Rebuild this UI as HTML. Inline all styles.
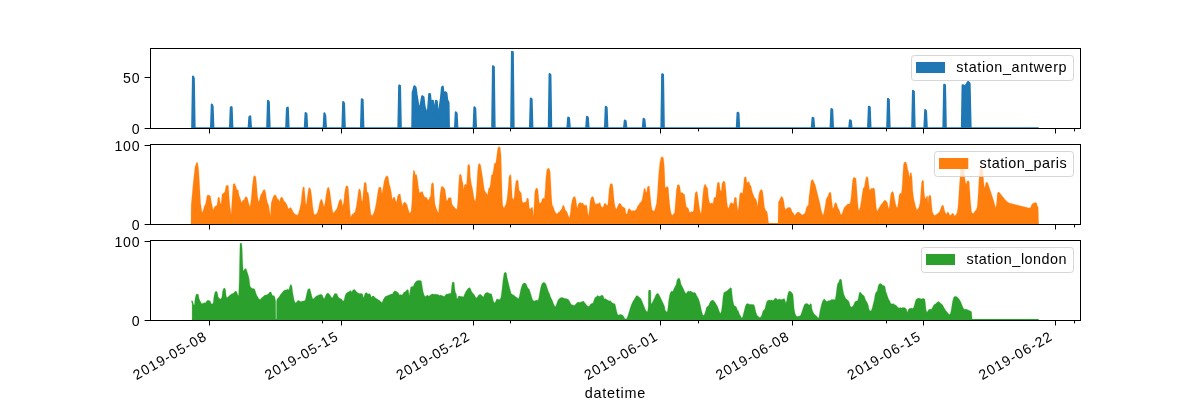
<!DOCTYPE html>
<html><head><meta charset="utf-8"><title>air quality area subplots</title>
<style>html,body{margin:0;padding:0;background:#fff;}body{width:1200px;height:400px;overflow:hidden;font-family:"Liberation Sans",sans-serif;}svg{display:block;will-change:transform;}text{font-family:"Liberation Sans",sans-serif;fill:#000;}</style>
</head><body>
<svg width="1200" height="400" viewBox="0 0 1200 400">
<rect x="0" y="0" width="1200" height="400" fill="#ffffff"/>
<g id="ax0">
<clipPath id="c0"><rect x="150" y="48" width="931" height="81"/></clipPath>
<g clip-path="url(#c0)"><path d="M192.3,128.5 L192.3,128.3 L192.2,128.3 L193.0,76.5 L193.8,78.5 L194.6,128.3 L211.0,128.3 L211.8,104.5 L212.6,106.4 L213.4,128.3 L230.0,128.3 L230.8,107.5 L231.6,107.1 L232.4,128.3 L248.6,128.3 L249.4,117.1 L250.2,116.3 L251.0,128.3 L267.2,128.3 L268.0,100.9 L268.8,101.9 L269.6,128.3 L286.2,128.3 L287.0,108.1 L287.8,107.7 L288.6,128.3 L304.8,128.3 L305.6,113.1 L306.4,113.9 L307.2,128.3 L323.6,128.3 L324.4,113.3 L325.2,115.4 L326.0,128.3 L342.4,128.3 L343.2,102.1 L344.0,103.4 L344.8,128.3 L361.0,128.3 L361.8,99.3 L362.6,99.9 L363.4,128.3 L398.4,128.3 L399.2,85.5 L400.0,85.9 L400.8,128.3 L412.3,128.3 L412.7,92.2 L413.4,90.0 L414.4,86.2 L415.6,87.6 L416.6,95.0 L418.2,105.0 L419.4,111.0 L420.8,104.0 L422.2,96.2 L423.4,97.0 L424.6,106.9 L426.2,112.0 L427.2,117.0 L428.2,108.0 L429.2,94.0 L430.0,94.2 L430.7,101.9 L431.5,107.0 L432.3,101.0 L432.9,100.8 L433.4,106.0 L434.4,115.0 L435.3,106.0 L436.0,100.8 L436.7,101.2 L437.5,111.0 L438.4,121.0 L439.6,108.0 L441.0,98.0 L442.0,87.4 L442.7,86.6 L443.6,93.8 L444.4,98.0 L445.4,92.2 L446.4,93.2 L447.2,100.0 L448.5,102.7 L448.9,128.3 L455.0,128.3 L455.8,112.3 L456.6,113.4 L457.4,128.3 L473.6,128.3 L474.4,107.3 L475.2,108.4 L476.0,128.3 L492.2,128.3 L493.0,66.3 L493.8,66.9 L494.6,128.3 L511.2,128.3 L512.0,51.9 L512.8,52.3 L513.6,128.3 L530.0,128.3 L530.8,98.5 L531.6,99.3 L532.4,128.3 L548.8,128.3 L549.6,74.1 L550.4,74.9 L551.2,128.3 L567.4,128.3 L568.2,117.5 L569.0,118.1 L569.8,128.3 L586.2,128.3 L587.0,116.9 L587.8,117.5 L588.6,128.3 L605.0,128.3 L605.8,106.9 L606.6,107.5 L607.4,128.3 L624.0,128.3 L624.8,120.5 L625.6,121.1 L626.4,128.3 L642.8,128.3 L643.6,118.9 L644.4,119.5 L645.2,128.3 L661.4,128.3 L662.2,74.3 L663.0,74.7 L663.8,128.3 L736.8,128.3 L737.6,112.7 L738.4,113.1 L739.2,128.3 L811.8,128.3 L812.6,117.9 L813.4,118.3 L814.2,128.3 L830.6,128.3 L831.4,109.1 L832.2,109.7 L833.0,128.3 L849.2,128.3 L850.0,120.3 L850.8,120.9 L851.6,128.3 L868.1,128.3 L868.9,106.7 L869.7,107.1 L870.5,128.3 L887.2,128.3 L888.0,98.9 L888.8,99.7 L889.6,128.3 L912.2,128.3 L913.0,90.9 L913.8,91.5 L914.6,128.3 L924.4,128.3 L925.2,110.1 L926.0,111.1 L926.8,128.3 L943.4,128.3 L944.2,84.7 L945.0,85.1 L945.8,128.3 L961.9,128.3 L962.6,85.3 L963.6,85.5 L964.8,86.7 L966.2,84.9 L968.2,81.9 L969.6,83.4 L970.6,128.3 L1037.7,128.3 L1037.7,128.5 Z" fill="#1f77b4" stroke="none"/>
<path d="M192.3,128.3 L192.2,128.3 L193.0,76.5 L193.8,78.5 L194.6,128.3 L211.0,128.3 L211.8,104.5 L212.6,106.4 L213.4,128.3 L230.0,128.3 L230.8,107.5 L231.6,107.1 L232.4,128.3 L248.6,128.3 L249.4,117.1 L250.2,116.3 L251.0,128.3 L267.2,128.3 L268.0,100.9 L268.8,101.9 L269.6,128.3 L286.2,128.3 L287.0,108.1 L287.8,107.7 L288.6,128.3 L304.8,128.3 L305.6,113.1 L306.4,113.9 L307.2,128.3 L323.6,128.3 L324.4,113.3 L325.2,115.4 L326.0,128.3 L342.4,128.3 L343.2,102.1 L344.0,103.4 L344.8,128.3 L361.0,128.3 L361.8,99.3 L362.6,99.9 L363.4,128.3 L398.4,128.3 L399.2,85.5 L400.0,85.9 L400.8,128.3 L412.3,128.3 L412.7,92.2 L413.4,90.0 L414.4,86.2 L415.6,87.6 L416.6,95.0 L418.2,105.0 L419.4,111.0 L420.8,104.0 L422.2,96.2 L423.4,97.0 L424.6,106.9 L426.2,112.0 L427.2,117.0 L428.2,108.0 L429.2,94.0 L430.0,94.2 L430.7,101.9 L431.5,107.0 L432.3,101.0 L432.9,100.8 L433.4,106.0 L434.4,115.0 L435.3,106.0 L436.0,100.8 L436.7,101.2 L437.5,111.0 L438.4,121.0 L439.6,108.0 L441.0,98.0 L442.0,87.4 L442.7,86.6 L443.6,93.8 L444.4,98.0 L445.4,92.2 L446.4,93.2 L447.2,100.0 L448.5,102.7 L448.9,128.3 L455.0,128.3 L455.8,112.3 L456.6,113.4 L457.4,128.3 L473.6,128.3 L474.4,107.3 L475.2,108.4 L476.0,128.3 L492.2,128.3 L493.0,66.3 L493.8,66.9 L494.6,128.3 L511.2,128.3 L512.0,51.9 L512.8,52.3 L513.6,128.3 L530.0,128.3 L530.8,98.5 L531.6,99.3 L532.4,128.3 L548.8,128.3 L549.6,74.1 L550.4,74.9 L551.2,128.3 L567.4,128.3 L568.2,117.5 L569.0,118.1 L569.8,128.3 L586.2,128.3 L587.0,116.9 L587.8,117.5 L588.6,128.3 L605.0,128.3 L605.8,106.9 L606.6,107.5 L607.4,128.3 L624.0,128.3 L624.8,120.5 L625.6,121.1 L626.4,128.3 L642.8,128.3 L643.6,118.9 L644.4,119.5 L645.2,128.3 L661.4,128.3 L662.2,74.3 L663.0,74.7 L663.8,128.3 L736.8,128.3 L737.6,112.7 L738.4,113.1 L739.2,128.3 L811.8,128.3 L812.6,117.9 L813.4,118.3 L814.2,128.3 L830.6,128.3 L831.4,109.1 L832.2,109.7 L833.0,128.3 L849.2,128.3 L850.0,120.3 L850.8,120.9 L851.6,128.3 L868.1,128.3 L868.9,106.7 L869.7,107.1 L870.5,128.3 L887.2,128.3 L888.0,98.9 L888.8,99.7 L889.6,128.3 L912.2,128.3 L913.0,90.9 L913.8,91.5 L914.6,128.3 L924.4,128.3 L925.2,110.1 L926.0,111.1 L926.8,128.3 L943.4,128.3 L944.2,84.7 L945.0,85.1 L945.8,128.3 L961.9,128.3 L962.6,85.3 L963.6,85.5 L964.8,86.7 L966.2,84.9 L968.2,81.9 L969.6,83.4 L970.6,128.3 L1037.7,128.3" fill="none" stroke="#1f77b4" stroke-width="2.08" stroke-linejoin="round" stroke-linecap="square"/></g>
<rect x="209" y="128" width="1" height="5.5" fill="#000"/>
<rect x="341" y="128" width="1" height="5.5" fill="#000"/>
<rect x="473" y="128" width="1" height="5.5" fill="#000"/>
<rect x="660" y="128" width="1" height="5.5" fill="#000"/>
<rect x="792" y="128" width="1" height="5.5" fill="#000"/>
<rect x="923" y="128" width="1" height="5.5" fill="#000"/>
<rect x="1055" y="128" width="1" height="5.5" fill="#000"/>
<rect x="322" y="128" width="1" height="3.4" fill="#000"/>
<rect x="510" y="128" width="1" height="3.4" fill="#000"/>
<rect x="698" y="128" width="1" height="3.4" fill="#000"/>
<rect x="886" y="128" width="1" height="3.4" fill="#000"/>
<rect x="1074" y="128" width="1" height="3.4" fill="#000"/>
<rect x="144.6" y="128" width="5.4" height="1" fill="#000"/>
<text x="140.2" y="133.6" font-size="14.1" text-anchor="end" letter-spacing="0.7">0</text>
<rect x="144.6" y="77" width="5.4" height="1" fill="#000"/>
<text x="140.2" y="82.6" font-size="14.1" text-anchor="end" letter-spacing="0.7">50</text>
<rect x="150" y="48" width="931" height="1" fill="#000"/>
<rect x="150" y="128" width="931" height="1" fill="#000"/>
<rect x="150" y="48" width="1" height="81" fill="#000"/>
<rect x="1080" y="48" width="1" height="81" fill="#000"/>
<rect x="911.5" y="55.5" width="162.0" height="25.0" rx="2.8" ry="2.8" fill="#ffffff" fill-opacity="0.8" stroke="#cccccc" stroke-opacity="0.8" stroke-width="1"/>
<rect x="916" y="62" width="29" height="11" fill="#1f77b4"/>
<text x="956.2" y="72.0" font-size="14.4" textLength="110.4" lengthAdjust="spacing">station_antwerp</text>
</g>
<g id="ax1">
<clipPath id="c1"><rect x="150" y="144" width="931" height="81"/></clipPath>
<g clip-path="url(#c1)"><path d="M191.0,224.5 L191.0,224.2 L191.2,205.0 L193.0,185.0 L195.0,167.0 L196.6,162.6 L197.6,162.6 L198.6,169.0 L199.6,185.0 L200.6,203.0 L202.0,212.6 L203.0,211.0 L204.4,206.0 L205.6,204.0 L207.0,195.4 L208.6,195.0 L210.4,196.0 L211.6,203.0 L213.0,209.0 L213.6,210.0 L214.6,206.6 L216.0,206.0 L217.0,205.0 L218.0,197.4 L219.4,197.4 L220.2,203.0 L221.0,204.0 L222.2,194.0 L223.6,193.0 L224.8,192.0 L226.0,186.0 L227.4,185.0 L228.4,186.0 L229.0,195.0 L230.0,207.0 L231.2,214.0 L232.2,197.0 L233.2,184.0 L234.6,183.4 L235.8,186.0 L237.0,190.0 L238.2,190.0 L239.0,195.0 L240.4,199.0 L241.6,203.0 L242.6,200.6 L244.0,200.0 L245.0,197.4 L246.2,196.4 L247.4,198.0 L248.6,203.0 L250.0,207.0 L251.2,199.0 L252.4,185.0 L253.6,176.6 L254.8,175.4 L255.8,177.0 L256.6,184.0 L257.4,195.0 L258.4,202.0 L259.4,200.0 L260.6,195.0 L262.0,193.0 L263.4,190.0 L264.6,189.4 L265.6,192.0 L266.6,199.0 L267.6,203.0 L268.6,205.0 L269.6,211.0 L270.4,216.0 L271.2,203.0 L272.4,199.0 L273.6,196.0 L275.0,194.4 L276.2,196.0 L277.4,199.0 L278.6,199.4 L279.4,202.0 L280.4,198.0 L281.6,197.0 L282.8,198.0 L284.0,201.0 L285.6,202.6 L287.0,205.0 L288.4,209.0 L289.6,208.0 L290.8,207.4 L292.0,209.4 L293.2,212.0 L294.6,214.0 L296.0,214.4 L297.4,215.4 L298.6,213.0 L299.8,208.6 L301.0,203.0 L302.0,193.0 L303.0,187.0 L304.2,187.0 L305.0,195.0 L305.8,205.0 L306.6,203.0 L307.6,195.0 L308.6,188.6 L309.8,187.6 L310.8,190.0 L311.8,197.0 L312.8,207.0 L314.0,214.4 L315.4,214.6 L317.0,213.4 L318.4,209.0 L319.6,203.0 L320.8,199.6 L322.0,199.4 L323.0,203.0 L324.0,207.0 L325.0,203.0 L326.2,194.0 L327.4,188.0 L328.6,187.0 L329.6,190.0 L330.6,197.0 L331.6,205.0 L333.0,213.0 L334.4,212.0 L335.8,210.0 L337.0,208.6 L338.2,204.0 L339.4,200.6 L340.6,199.0 L341.6,200.0 L342.6,206.0 L343.6,203.0 L344.6,193.0 L345.8,186.6 L347.0,185.6 L348.2,187.0 L349.0,197.0 L349.8,209.0 L350.6,217.0 L352.0,214.6 L353.4,213.4 L355.0,212.0 L356.2,207.0 L357.4,199.0 L358.6,190.0 L359.8,188.6 L360.8,192.0 L361.6,200.0 L362.4,202.0 L363.2,193.0 L364.2,183.0 L365.4,182.0 L366.4,184.0 L367.0,192.0 L368.2,192.6 L369.0,197.0 L370.0,207.0 L371.0,215.0 L372.4,215.4 L373.8,213.0 L375.0,209.0 L376.2,203.0 L377.4,195.0 L378.6,188.0 L379.8,187.0 L381.0,187.6 L382.0,194.0 L383.0,188.0 L384.2,181.0 L385.6,177.0 L387.0,175.6 L388.2,177.0 L389.2,184.0 L390.4,187.4 L391.4,193.0 L392.4,200.0 L393.4,197.4 L394.6,197.0 L395.6,201.0 L396.6,202.0 L397.6,196.0 L399.0,194.0 L400.2,194.0 L401.2,200.0 L402.4,206.0 L403.4,203.0 L404.6,202.0 L405.8,203.0 L407.0,204.4 L408.2,209.0 L409.4,213.0 L411.0,212.0 L412.0,201.0 L412.6,181.0 L413.4,170.6 L414.4,170.6 L415.4,175.0 L416.6,174.6 L417.6,180.0 L418.6,188.0 L419.6,193.0 L421.0,192.0 L422.4,191.4 L423.6,195.0 L425.0,197.4 L426.2,197.0 L427.4,199.0 L428.6,200.6 L429.6,197.4 L430.6,196.0 L431.4,184.0 L432.6,182.6 L433.6,184.0 L434.2,195.0 L435.0,204.0 L436.2,208.0 L437.4,211.0 L438.4,213.0 L439.2,205.0 L440.2,193.0 L441.4,186.6 L442.6,186.4 L443.8,187.4 L445.0,189.4 L445.8,195.0 L446.6,201.0 L447.6,200.0 L448.4,198.0 L449.8,197.6 L451.2,198.0 L451.8,203.0 L452.6,205.6 L453.8,206.6 L455.0,208.0 L456.2,209.0 L457.0,209.4 L457.8,201.0 L458.6,185.0 L459.4,175.0 L460.4,174.0 L461.4,175.4 L462.2,181.0 L463.0,183.0 L463.6,190.0 L464.4,185.0 L465.6,184.0 L466.6,185.0 L467.2,175.0 L467.8,165.0 L469.0,164.4 L469.8,166.0 L470.4,177.0 L471.4,184.0 L472.4,188.0 L473.2,193.0 L474.2,199.0 L475.2,201.4 L476.0,197.0 L476.8,185.0 L477.6,171.0 L478.4,164.2 L479.6,163.6 L480.6,165.0 L481.6,171.0 L482.6,177.0 L483.4,183.0 L484.4,190.0 L485.4,192.0 L486.4,193.0 L487.6,195.0 L488.6,188.6 L489.8,187.6 L490.6,183.0 L491.4,175.0 L492.6,174.4 L493.6,169.0 L494.4,163.4 L495.8,163.0 L496.6,157.0 L497.8,148.0 L499.0,146.6 L500.2,147.4 L501.0,155.0 L501.6,175.0 L502.2,197.0 L502.8,206.0 L504.0,208.0 L505.0,206.0 L506.0,204.0 L507.0,199.0 L508.0,189.0 L509.0,177.0 L510.0,174.6 L511.0,175.4 L511.6,185.0 L512.2,197.0 L513.2,200.0 L514.2,197.0 L515.0,188.0 L516.0,181.0 L517.2,180.0 L518.2,181.0 L519.0,190.0 L520.0,191.4 L521.2,193.0 L522.0,200.0 L522.8,203.0 L523.8,202.4 L525.0,202.0 L526.0,202.4 L526.8,198.6 L527.8,198.0 L528.6,199.4 L529.2,207.0 L530.0,209.4 L531.2,208.0 L532.4,207.0 L533.0,211.0 L533.6,216.6 L534.2,203.0 L534.8,192.0 L535.8,188.6 L537.0,188.0 L538.0,190.0 L538.6,197.0 L539.4,203.4 L540.4,203.0 L541.4,202.0 L542.2,199.0 L543.4,198.0 L544.4,199.0 L545.0,193.0 L545.8,179.0 L546.8,170.0 L548.0,168.2 L549.2,168.6 L550.2,172.0 L550.8,183.0 L551.4,195.0 L552.2,205.0 L553.4,207.0 L554.6,211.0 L555.8,213.0 L557.0,214.0 L558.2,212.6 L559.4,212.0 L560.6,210.0 L561.8,209.0 L562.6,206.0 L563.6,205.0 L564.4,207.0 L565.2,210.0 L566.4,211.0 L567.4,213.0 L568.4,216.0 L569.4,218.0 L570.4,213.0 L571.2,205.0 L572.2,200.0 L573.4,197.0 L574.6,196.4 L575.6,198.0 L576.4,203.0 L577.2,208.6 L578.2,204.6 L579.2,203.0 L580.6,202.6 L581.8,203.4 L583.0,203.0 L584.0,205.0 L585.2,205.4 L586.2,204.6 L587.0,207.0 L587.8,213.0 L588.6,216.0 L589.4,209.0 L590.2,201.0 L591.2,197.4 L592.4,196.6 L593.6,197.4 L594.6,202.0 L595.8,204.4 L597.0,203.4 L598.2,204.0 L599.2,202.6 L600.2,203.0 L601.0,206.0 L602.2,207.4 L603.4,206.6 L604.4,203.6 L605.6,203.4 L606.6,205.0 L607.8,205.4 L608.4,199.0 L609.2,189.0 L610.2,184.0 L611.4,183.4 L612.6,184.4 L613.4,192.0 L614.2,201.0 L615.2,207.0 L616.4,209.4 L617.4,207.0 L618.4,204.4 L619.6,203.0 L620.8,204.0 L621.8,206.0 L623.0,207.0 L624.2,207.6 L625.2,208.6 L626.0,214.0 L627.0,214.0 L628.2,209.4 L629.4,208.6 L630.6,210.0 L631.8,211.0 L633.0,210.6 L634.2,211.0 L635.4,210.0 L636.6,209.0 L637.6,206.0 L638.8,205.0 L639.8,203.0 L641.0,202.0 L642.0,200.0 L643.0,195.0 L644.0,189.0 L645.0,188.0 L645.8,191.4 L646.6,193.0 L647.4,187.0 L648.4,186.0 L649.4,186.6 L650.2,195.0 L651.2,205.0 L652.2,210.0 L653.4,211.0 L654.6,210.6 L655.6,207.0 L656.6,203.0 L657.6,191.0 L658.6,175.0 L659.8,163.0 L661.0,157.4 L662.2,156.6 L663.4,158.0 L664.2,165.0 L664.8,177.0 L665.0,188.0 L666.2,187.0 L667.4,186.4 L668.4,188.0 L669.0,197.0 L670.0,207.0 L671.0,213.0 L672.2,215.4 L673.4,214.0 L674.6,213.0 L675.4,203.0 L676.4,190.0 L677.4,185.0 L678.6,184.4 L679.8,186.0 L680.6,192.0 L681.8,193.0 L682.6,192.6 L683.6,194.0 L684.6,194.6 L685.4,201.0 L686.4,207.0 L687.4,207.4 L688.4,208.6 L689.4,212.0 L690.4,212.6 L691.4,211.4 L692.6,212.0 L693.6,210.6 L694.4,201.0 L695.2,193.0 L696.2,191.4 L697.2,192.0 L698.0,197.0 L699.0,205.0 L700.0,211.0 L701.0,214.0 L701.8,207.0 L702.6,197.0 L703.6,188.0 L704.6,184.4 L705.6,184.4 L706.6,187.0 L707.6,188.0 L708.4,197.0 L709.4,202.6 L710.6,203.4 L711.8,203.0 L713.0,203.4 L714.0,198.0 L715.0,197.0 L715.8,197.4 L716.6,189.0 L717.4,183.0 L718.4,182.0 L719.4,183.0 L720.2,190.0 L721.2,191.4 L722.0,184.0 L723.0,181.4 L724.2,181.0 L725.2,183.0 L726.0,191.0 L726.8,201.0 L727.6,207.0 L728.6,208.6 L729.6,205.0 L730.6,203.0 L731.8,202.6 L733.0,204.0 L733.8,203.0 L734.4,198.0 L735.4,197.0 L736.4,198.0 L737.0,205.0 L738.0,211.0 L738.8,205.0 L739.6,195.0 L740.6,192.4 L741.6,193.0 L742.6,193.6 L743.4,187.0 L744.2,178.0 L745.2,176.6 L746.2,177.4 L747.0,183.0 L748.0,182.0 L749.0,181.4 L750.0,185.0 L751.0,186.0 L751.8,190.0 L752.6,193.0 L753.6,195.0 L754.6,198.0 L755.6,198.6 L756.6,201.0 L757.6,207.0 L758.4,198.0 L759.4,192.0 L760.6,190.0 L761.8,189.4 L762.8,192.0 L763.6,199.0 L764.4,207.0 L765.4,210.0 L766.6,211.0 L767.6,214.0 L768.4,222.0 L768.8,224.2 L778.0,224.2 L778.4,202.0 L779.4,200.6 L780.4,198.0 L781.6,196.4 L782.8,197.4 L783.8,201.0 L784.6,207.0 L785.6,210.0 L786.6,208.6 L787.8,207.6 L789.0,207.4 L790.2,207.6 L791.2,209.0 L792.2,212.0 L793.4,213.0 L794.6,215.4 L795.8,214.0 L797.0,212.4 L798.2,212.0 L799.4,212.4 L800.6,213.4 L801.8,215.0 L803.0,214.6 L804.2,214.0 L805.4,212.0 L806.4,207.4 L807.4,206.0 L808.4,205.0 L809.0,197.0 L810.0,189.0 L811.0,181.0 L812.2,179.4 L813.4,180.6 L814.2,183.0 L815.0,184.0 L816.0,188.0 L817.0,192.0 L818.0,196.0 L819.0,200.0 L820.0,204.0 L821.0,209.0 L822.0,213.0 L823.0,215.4 L824.0,212.0 L825.0,207.0 L826.0,200.0 L827.0,197.4 L828.0,196.0 L829.0,193.0 L830.0,192.0 L831.0,193.0 L831.8,201.0 L832.8,208.6 L833.8,207.0 L834.6,203.4 L835.6,202.4 L836.6,203.4 L837.6,207.0 L838.6,209.0 L839.6,211.0 L840.6,214.0 L841.6,215.0 L842.6,212.0 L843.6,209.0 L844.6,207.0 L845.8,206.0 L847.0,204.6 L848.2,204.0 L849.4,204.0 L850.2,203.0 L851.0,198.0 L851.8,189.0 L852.6,180.0 L853.6,177.4 L854.8,177.4 L856.0,178.6 L856.8,189.0 L857.6,201.0 L858.4,209.0 L859.2,210.6 L860.2,207.0 L861.2,201.0 L862.2,194.0 L863.2,188.0 L864.2,187.6 L865.0,183.0 L866.0,177.4 L867.0,176.4 L868.0,178.0 L868.8,185.0 L869.6,190.0 L870.6,189.4 L871.6,188.0 L872.6,188.4 L873.6,188.0 L874.6,189.0 L875.4,197.0 L876.2,207.0 L877.0,211.0 L878.0,210.0 L879.0,208.0 L880.2,206.0 L881.4,204.0 L882.6,203.0 L883.8,201.0 L885.0,200.0 L886.2,201.0 L887.4,203.0 L888.2,207.0 L889.0,209.0 L889.8,203.0 L890.6,195.0 L891.6,192.0 L892.6,191.4 L893.6,193.0 L894.6,199.0 L895.6,204.0 L896.6,207.0 L897.4,208.0 L898.2,203.0 L899.2,195.0 L900.2,193.0 L901.2,194.0 L902.0,189.0 L902.8,175.0 L903.6,164.0 L904.6,162.0 L905.8,162.0 L906.8,164.0 L907.8,170.0 L908.6,172.0 L909.4,178.0 L910.2,173.0 L911.2,172.6 L912.0,177.0 L912.8,191.0 L913.8,199.0 L914.8,203.0 L915.8,207.0 L916.8,210.0 L917.8,209.0 L919.0,207.0 L920.0,203.0 L920.8,193.0 L921.6,182.0 L922.6,180.0 L923.6,181.0 L924.2,193.0 L925.0,198.0 L925.8,198.6 L926.6,196.6 L927.6,196.0 L928.0,205.0 L928.4,197.4 L929.2,195.4 L930.2,195.0 L931.0,197.0 L931.6,205.0 L932.4,212.0 L933.4,214.0 L934.6,215.4 L935.8,215.0 L937.0,214.0 L938.2,213.0 L939.4,212.0 L940.6,209.0 L941.6,206.0 L942.6,205.0 L943.6,206.0 L944.4,210.0 L945.4,213.0 L946.6,214.0 L947.6,212.0 L948.6,212.6 L949.6,215.0 L950.6,215.4 L951.6,214.0 L952.6,213.0 L953.6,214.0 L954.6,216.0 L955.8,215.0 L957.0,213.0 L958.0,207.0 L958.8,195.0 L959.6,183.0 L960.4,173.0 L961.2,166.0 L962.0,164.4 L963.0,165.0 L964.0,170.0 L964.8,178.0 L965.6,183.0 L966.4,184.0 L967.2,181.0 L968.2,180.4 L969.2,182.0 L969.8,191.0 L970.6,203.0 L971.6,212.0 L972.6,213.6 L973.8,213.0 L975.0,211.0 L976.2,210.0 L977.2,207.0 L978.0,197.0 L978.8,183.0 L979.6,171.0 L980.4,166.6 L981.4,166.0 L982.4,167.0 L983.2,175.0 L984.0,185.0 L984.8,188.0 L985.8,183.0 L986.8,182.0 L987.8,183.0 L988.8,186.0 L989.8,189.0 L990.8,192.0 L991.8,195.0 L992.8,198.0 L993.8,201.0 L994.8,205.0 L995.8,208.0 L996.6,203.0 L997.4,193.0 L998.4,192.0 L999.4,192.6 L1001.0,194.6 L1003.0,197.0 L1005.0,199.4 L1007.0,201.6 L1009.0,203.0 L1013.0,204.0 L1017.0,205.0 L1021.0,206.0 L1025.0,207.0 L1029.0,208.0 L1030.6,207.4 L1031.6,205.0 L1032.6,203.6 L1034.0,203.0 L1035.4,202.4 L1036.6,203.0 L1037.4,206.0 L1038.2,207.4 L1038.6,224.2 L1038.6,224.5 Z" fill="#ff7f0e" stroke="#ff7f0e" stroke-width="0.25" stroke-linejoin="round"/>
<path d="M191.2,224.1 L1038.7,224.1" fill="none" stroke="#ff7f0e" stroke-width="2.08"/></g>
<rect x="209" y="224" width="1" height="5.5" fill="#000"/>
<rect x="341" y="224" width="1" height="5.5" fill="#000"/>
<rect x="473" y="224" width="1" height="5.5" fill="#000"/>
<rect x="660" y="224" width="1" height="5.5" fill="#000"/>
<rect x="792" y="224" width="1" height="5.5" fill="#000"/>
<rect x="923" y="224" width="1" height="5.5" fill="#000"/>
<rect x="1055" y="224" width="1" height="5.5" fill="#000"/>
<rect x="322" y="224" width="1" height="3.4" fill="#000"/>
<rect x="510" y="224" width="1" height="3.4" fill="#000"/>
<rect x="698" y="224" width="1" height="3.4" fill="#000"/>
<rect x="886" y="224" width="1" height="3.4" fill="#000"/>
<rect x="1074" y="224" width="1" height="3.4" fill="#000"/>
<rect x="144.6" y="224" width="5.4" height="1" fill="#000"/>
<text x="140.2" y="229.6" font-size="14.1" text-anchor="end" letter-spacing="0.7">0</text>
<rect x="144.6" y="145" width="5.4" height="1" fill="#000"/>
<text x="140.2" y="150.6" font-size="14.1" text-anchor="end" letter-spacing="0.7">100</text>
<rect x="150" y="144" width="931" height="1" fill="#000"/>
<rect x="150" y="224" width="931" height="1" fill="#000"/>
<rect x="150" y="144" width="1" height="81" fill="#000"/>
<rect x="1080" y="144" width="1" height="81" fill="#000"/>
<rect x="934.5" y="151.5" width="139.0" height="25.0" rx="2.8" ry="2.8" fill="#ffffff" fill-opacity="0.8" stroke="#cccccc" stroke-opacity="0.8" stroke-width="1"/>
<rect x="939" y="158" width="29.299999999999955" height="11" fill="#ff7f0e"/>
<text x="979.6" y="168.0" font-size="14.4" textLength="87.0" lengthAdjust="spacing">station_paris</text>
</g>
<g id="ax2">
<clipPath id="c2"><rect x="150" y="240" width="931" height="81"/></clipPath>
<g clip-path="url(#c2)"><path d="M192.1,320.5 L192.1,320.2 L192.1,303.4 L191.5,302.0 L191.6,300.8 L192.6,301.0 L193.6,304.6 L194.4,305.0 L195.0,299.0 L196.0,294.6 L197.2,294.0 L198.4,294.6 L199.2,299.0 L200.2,301.0 L201.4,303.4 L202.6,303.4 L203.8,303.0 L205.0,302.6 L205.8,303.0 L206.6,301.0 L207.8,300.2 L209.0,300.4 L210.2,301.0 L211.0,303.4 L212.2,304.0 L213.2,303.0 L214.0,296.0 L215.0,292.0 L216.2,291.0 L217.4,292.6 L218.2,297.0 L219.4,298.6 L220.6,299.0 L221.8,297.6 L222.6,291.0 L223.6,288.4 L224.8,288.0 L225.6,290.0 L226.2,296.0 L227.0,298.0 L227.8,297.0 L229.0,296.0 L230.2,295.0 L231.4,294.0 L232.6,293.4 L233.8,293.0 L234.8,291.4 L236.0,291.0 L237.0,292.6 L237.8,295.0 L238.6,295.4 L239.2,281.0 L239.6,261.0 L240.0,244.0 L240.6,243.0 L241.6,243.0 L242.2,249.0 L242.6,261.0 L243.2,271.0 L244.2,270.0 L245.2,268.4 L246.2,269.0 L247.2,272.0 L248.2,275.0 L249.2,279.0 L250.0,286.0 L251.0,287.6 L252.2,288.4 L253.4,288.6 L254.6,289.0 L255.6,292.0 L256.6,295.0 L257.8,297.0 L259.0,299.0 L260.2,299.4 L261.4,298.0 L262.6,297.0 L263.8,296.0 L265.0,295.0 L266.2,295.0 L267.4,294.6 L268.6,293.4 L269.8,292.0 L271.0,292.0 L272.0,294.6 L273.0,296.0 L274.0,295.4 L274.8,297.0 L275.7,301.0 L275.8,320.2 L276.5,320.2 L276.6,301.0 L277.2,299.0 L278.0,298.0 L279.0,297.0 L280.2,295.0 L281.4,293.4 L282.6,292.0 L283.8,290.6 L285.0,290.0 L286.2,290.0 L287.4,289.0 L288.6,290.0 L289.4,288.0 L290.2,285.0 L291.2,284.6 L292.0,286.6 L292.8,293.0 L293.6,297.0 L294.4,301.0 L295.4,303.0 L296.6,302.0 L297.8,300.6 L299.0,300.4 L300.2,301.4 L301.4,301.6 L302.6,301.0 L303.8,301.0 L305.0,300.6 L305.8,298.0 L306.6,294.0 L307.6,290.0 L308.8,288.6 L310.0,289.0 L310.8,292.0 L311.8,296.0 L312.8,299.0 L314.0,298.6 L315.2,297.0 L316.4,296.0 L317.6,295.4 L318.8,295.0 L320.0,294.6 L321.2,294.6 L322.4,295.0 L323.4,298.0 L324.4,298.6 L325.4,296.0 L326.4,294.0 L327.6,293.0 L328.8,293.4 L330.0,295.0 L331.2,297.0 L332.4,298.0 L333.4,296.0 L334.6,293.6 L335.8,293.4 L337.0,294.0 L338.0,296.6 L339.2,298.0 L340.4,298.4 L341.6,299.0 L342.8,301.0 L344.0,300.4 L345.0,296.0 L346.0,293.4 L347.2,292.6 L348.4,292.0 L349.6,291.0 L350.6,290.6 L351.6,292.0 L352.6,290.6 L353.6,289.6 L354.8,289.4 L355.8,291.0 L356.8,292.0 L358.0,293.0 L359.2,293.4 L360.4,293.6 L361.6,293.4 L362.6,294.0 L363.4,298.0 L364.2,296.0 L365.0,293.4 L366.2,292.6 L367.4,293.4 L368.6,294.0 L369.8,293.6 L370.6,295.0 L371.6,297.4 L372.6,296.0 L373.8,296.0 L375.0,297.4 L376.2,298.6 L377.4,299.0 L378.6,300.0 L379.8,300.6 L381.0,302.0 L382.2,302.6 L383.0,300.0 L384.2,298.0 L385.4,296.6 L386.6,296.0 L387.8,295.4 L389.0,295.0 L390.2,294.6 L391.4,294.0 L392.6,294.0 L393.4,292.0 L394.6,291.0 L395.8,291.0 L397.0,292.0 L398.2,292.6 L399.4,295.0 L400.6,294.6 L401.8,295.0 L403.0,294.0 L404.0,292.0 L405.2,292.0 L406.2,290.6 L407.4,289.6 L408.4,290.0 L409.2,296.0 L410.0,291.0 L410.8,287.0 L412.0,286.4 L413.2,286.6 L414.2,284.0 L415.4,282.0 L416.6,281.0 L417.8,280.6 L419.0,280.6 L420.2,280.6 L421.4,281.0 L422.2,286.0 L423.0,291.0 L424.0,294.6 L425.0,296.6 L426.2,296.0 L427.4,295.0 L428.6,296.0 L429.8,295.4 L431.0,294.6 L432.2,294.0 L433.4,294.0 L434.6,294.4 L435.8,294.0 L437.0,294.4 L438.2,294.6 L439.4,295.4 L440.6,295.0 L441.8,295.4 L443.0,296.0 L444.2,296.6 L445.4,295.0 L446.6,294.0 L447.8,294.0 L449.0,293.6 L450.2,293.4 L451.0,293.0 L451.6,287.0 L452.2,282.6 L453.2,282.0 L454.2,282.6 L454.8,289.0 L455.6,293.0 L456.4,294.0 L457.0,299.0 L457.8,298.0 L458.6,296.0 L459.8,296.0 L461.0,296.6 L462.2,296.6 L463.4,297.0 L464.4,294.6 L465.6,292.0 L466.8,290.0 L468.0,288.6 L469.2,287.6 L470.4,288.6 L471.4,291.0 L472.6,293.0 L473.8,294.0 L475.0,296.0 L476.2,298.0 L477.4,297.0 L478.6,295.0 L479.8,294.4 L481.0,294.6 L482.2,296.0 L483.4,297.0 L484.4,294.6 L485.6,293.0 L486.8,292.4 L488.0,292.6 L489.2,293.4 L490.4,293.6 L491.6,294.0 L492.4,297.0 L493.4,301.0 L494.4,303.0 L495.4,302.0 L496.4,299.4 L497.6,299.0 L498.8,299.4 L500.0,299.6 L501.0,297.0 L502.0,289.0 L503.0,280.0 L504.0,273.4 L505.2,272.0 L506.4,273.0 L507.2,278.0 L508.2,282.0 L509.2,286.0 L510.2,290.0 L511.2,293.4 L512.4,294.6 L513.6,295.0 L514.8,296.0 L516.0,297.0 L517.2,297.6 L518.4,299.0 L519.4,296.0 L520.4,291.0 L521.4,287.0 L522.6,284.0 L523.8,283.0 L525.0,283.0 L526.2,284.0 L527.2,286.6 L528.2,288.4 L529.2,289.0 L530.0,291.4 L531.0,294.6 L532.0,298.0 L533.0,300.6 L534.2,301.0 L535.4,300.4 L536.6,300.0 L537.8,300.4 L538.8,298.0 L539.8,292.0 L540.8,287.0 L542.0,283.4 L543.2,282.4 L544.4,282.4 L545.6,283.4 L546.6,286.0 L547.6,289.0 L548.6,292.0 L549.6,294.0 L550.6,297.0 L551.6,299.0 L552.6,301.0 L553.6,304.0 L554.6,306.0 L555.6,306.6 L556.6,304.0 L557.6,301.0 L558.8,299.0 L560.0,298.0 L561.2,297.6 L562.4,297.4 L563.6,298.0 L564.8,298.4 L566.0,298.6 L567.2,299.0 L568.4,299.4 L569.4,301.0 L570.4,303.0 L571.4,304.6 L572.6,305.0 L573.8,305.4 L575.0,305.0 L576.2,303.4 L577.4,302.6 L578.6,302.0 L579.8,302.4 L581.0,302.0 L582.2,301.4 L583.4,301.0 L584.6,302.6 L585.8,304.0 L587.0,305.4 L588.2,306.6 L589.4,306.0 L590.6,304.0 L591.8,303.4 L593.0,303.0 L594.0,300.0 L595.0,297.4 L596.2,297.0 L597.4,295.4 L598.6,296.0 L599.8,296.4 L601.0,295.4 L602.2,295.0 L603.2,296.0 L604.2,299.0 L605.4,298.6 L606.6,299.6 L607.8,300.0 L609.0,301.0 L610.2,300.6 L611.4,302.0 L612.6,303.0 L613.8,303.4 L615.0,304.0 L615.8,307.0 L616.6,311.0 L617.6,314.6 L618.8,315.0 L620.0,314.6 L621.2,314.4 L622.4,315.0 L623.4,316.0 L624.4,318.0 L625.6,319.0 L626.8,318.6 L627.8,316.0 L629.0,312.0 L630.2,308.0 L631.4,304.6 L632.6,302.0 L633.8,300.0 L635.0,298.0 L636.2,296.0 L637.2,295.4 L638.4,296.6 L639.6,297.6 L640.8,298.6 L642.0,301.0 L643.2,304.0 L644.4,307.0 L645.6,310.0 L646.6,311.6 L647.6,311.4 L648.2,307.0 L648.4,291.0 L649.0,290.0 L650.2,290.0 L650.8,291.0 L651.0,304.0 L652.0,303.0 L653.0,301.0 L654.0,299.0 L655.0,297.0 L656.0,294.6 L657.0,293.4 L658.2,293.4 L659.2,295.0 L660.2,297.0 L661.4,299.4 L662.6,302.0 L663.8,304.6 L664.8,307.0 L665.0,310.0 L666.0,311.0 L667.0,312.6 L667.8,309.0 L668.6,301.0 L669.6,295.0 L670.6,292.0 L671.8,291.0 L672.8,291.4 L673.8,289.0 L675.0,286.6 L676.0,285.0 L677.0,280.0 L678.0,278.4 L679.2,278.0 L680.2,280.0 L681.0,284.0 L682.0,286.0 L683.0,288.0 L684.0,290.0 L685.0,292.6 L686.2,293.4 L687.2,292.0 L688.4,291.0 L689.6,291.4 L690.8,291.0 L692.0,292.0 L693.2,292.6 L694.4,292.4 L695.6,293.0 L696.6,295.4 L697.6,297.0 L698.6,299.0 L699.6,302.0 L700.6,306.0 L701.6,311.0 L702.6,314.6 L703.6,315.4 L704.6,314.0 L705.6,311.0 L706.4,307.4 L707.4,306.6 L708.4,306.0 L709.4,303.4 L710.4,301.6 L711.6,300.4 L712.8,300.0 L714.0,301.0 L715.2,302.6 L716.4,304.6 L717.6,306.6 L718.6,309.4 L719.6,312.0 L720.6,313.4 L721.4,311.0 L722.2,305.0 L723.0,297.0 L723.8,292.6 L724.8,292.0 L726.0,291.6 L727.2,290.6 L728.4,289.6 L729.6,288.6 L730.8,287.6 L731.6,288.6 L732.2,295.0 L733.0,301.0 L734.0,305.4 L735.2,306.0 L736.4,307.0 L737.4,310.0 L738.4,311.0 L739.4,314.0 L740.6,316.0 L741.6,318.0 L742.6,317.0 L743.4,314.0 L744.4,310.0 L745.4,306.0 L746.4,304.0 L747.6,303.4 L748.8,304.0 L750.0,304.4 L751.2,304.2 L752.4,304.4 L753.6,304.6 L754.6,306.0 L755.4,310.0 L756.2,313.0 L757.2,315.4 L758.4,316.6 L759.6,317.6 L760.8,317.0 L761.8,315.0 L762.8,311.4 L763.8,310.0 L764.8,309.0 L765.8,305.0 L766.8,301.4 L767.8,300.4 L769.0,300.0 L770.2,300.2 L771.4,300.0 L772.6,300.4 L773.8,300.0 L774.8,298.4 L776.0,298.0 L777.2,299.4 L778.4,299.6 L779.6,299.0 L780.8,299.4 L782.0,299.6 L783.2,299.0 L784.2,298.4 L785.0,300.0 L785.8,303.0 L786.6,301.0 L787.4,296.0 L788.4,292.0 L789.4,291.0 L790.6,291.4 L791.8,292.6 L793.0,294.6 L793.6,301.0 L794.2,309.0 L795.0,313.0 L796.0,315.4 L797.2,316.6 L798.4,316.2 L799.6,316.0 L800.8,315.0 L801.8,312.0 L802.8,309.0 L803.8,306.0 L804.8,304.0 L806.0,303.4 L807.2,303.6 L808.4,304.6 L809.6,305.0 L810.6,303.6 L811.4,304.0 L812.0,309.0 L813.0,312.0 L814.2,314.0 L815.4,315.0 L816.6,316.0 L817.8,317.4 L818.8,318.0 L819.6,313.0 L820.6,308.0 L821.6,304.0 L822.6,301.0 L823.6,299.4 L824.6,299.0 L825.6,300.4 L826.6,301.6 L827.8,301.0 L829.0,300.4 L830.2,300.6 L831.4,299.6 L832.6,299.4 L833.8,299.6 L835.0,300.0 L836.0,295.0 L836.8,288.0 L837.6,283.4 L838.6,282.6 L839.6,279.4 L840.6,279.0 L841.6,280.0 L842.2,285.0 L843.0,290.0 L843.8,294.0 L844.8,296.6 L845.8,298.6 L847.0,299.4 L848.2,300.6 L849.2,302.0 L850.2,306.0 L851.2,307.0 L852.4,306.6 L853.6,305.0 L854.8,302.0 L856.0,301.0 L857.2,301.0 L858.2,299.0 L859.0,294.0 L859.8,292.0 L860.8,292.6 L861.8,294.0 L863.0,295.0 L864.2,296.0 L865.2,299.0 L866.2,301.0 L867.2,302.6 L868.2,305.0 L869.0,309.0 L870.0,311.0 L871.2,310.6 L872.2,308.0 L873.2,304.0 L874.2,300.0 L875.2,294.0 L876.2,292.0 L877.2,291.0 L878.2,286.0 L879.2,284.0 L880.4,283.6 L881.6,284.0 L882.8,285.4 L884.0,285.4 L885.0,286.6 L885.8,291.0 L886.8,294.0 L887.8,297.0 L888.8,299.4 L889.8,301.0 L890.8,303.4 L892.0,304.0 L893.2,303.6 L894.4,304.6 L895.6,305.0 L896.8,306.0 L898.0,307.4 L899.2,308.0 L900.4,307.6 L901.6,308.0 L902.8,307.6 L904.0,307.4 L904.2,307.6 L905.4,308.0 L906.4,309.0 L907.2,312.6 L908.2,310.0 L909.0,308.6 L910.2,308.4 L911.4,308.0 L912.6,308.4 L913.6,307.6 L914.4,305.0 L915.4,301.0 L916.4,299.0 L917.6,298.4 L918.8,298.0 L920.0,298.4 L921.2,299.0 L922.4,298.6 L923.6,298.6 L924.8,299.0 L925.4,303.0 L926.0,309.0 L926.8,312.6 L927.8,311.0 L928.8,309.6 L930.0,309.0 L931.2,309.4 L932.2,308.0 L933.2,306.0 L934.2,304.6 L935.4,304.0 L936.4,303.0 L937.4,302.0 L938.6,301.6 L939.8,302.4 L941.0,303.4 L942.2,304.6 L943.2,306.0 L944.2,308.0 L945.2,309.6 L946.2,311.0 L947.2,312.0 L948.2,313.4 L949.2,314.6 L950.2,314.0 L951.0,311.0 L951.8,306.0 L952.6,301.0 L953.6,297.6 L954.6,296.4 L955.8,296.2 L957.0,297.0 L958.2,298.0 L959.4,299.6 L960.6,301.6 L961.6,304.0 L962.6,306.6 L963.6,308.6 L964.6,309.4 L965.8,309.0 L967.0,309.4 L968.2,310.0 L969.4,310.4 L970.6,311.0 L971.6,312.0 L972.2,320.2 L972.2,320.5 Z" fill="#2ca02c" stroke="#2ca02c" stroke-width="0.25" stroke-linejoin="round"/>
<path d="M192.1,320.1 L1038.7,320.1" fill="none" stroke="#2ca02c" stroke-width="2.08"/></g>
<rect x="209" y="320" width="1" height="5.5" fill="#000"/>
<rect x="341" y="320" width="1" height="5.5" fill="#000"/>
<rect x="473" y="320" width="1" height="5.5" fill="#000"/>
<rect x="660" y="320" width="1" height="5.5" fill="#000"/>
<rect x="792" y="320" width="1" height="5.5" fill="#000"/>
<rect x="923" y="320" width="1" height="5.5" fill="#000"/>
<rect x="1055" y="320" width="1" height="5.5" fill="#000"/>
<rect x="322" y="320" width="1" height="3.4" fill="#000"/>
<rect x="510" y="320" width="1" height="3.4" fill="#000"/>
<rect x="698" y="320" width="1" height="3.4" fill="#000"/>
<rect x="886" y="320" width="1" height="3.4" fill="#000"/>
<rect x="1074" y="320" width="1" height="3.4" fill="#000"/>
<rect x="144.6" y="320" width="5.4" height="1" fill="#000"/>
<text x="140.2" y="325.6" font-size="14.1" text-anchor="end" letter-spacing="0.7">0</text>
<rect x="144.6" y="241" width="5.4" height="1" fill="#000"/>
<text x="140.2" y="246.6" font-size="14.1" text-anchor="end" letter-spacing="0.7">100</text>
<rect x="150" y="240" width="931" height="1" fill="#000"/>
<rect x="150" y="320" width="931" height="1" fill="#000"/>
<rect x="150" y="240" width="1" height="81" fill="#000"/>
<rect x="1080" y="240" width="1" height="81" fill="#000"/>
<rect x="921.5" y="247.5" width="152.0" height="25.0" rx="2.8" ry="2.8" fill="#ffffff" fill-opacity="0.8" stroke="#cccccc" stroke-opacity="0.8" stroke-width="1"/>
<rect x="926" y="254" width="29" height="11" fill="#2ca02c"/>
<text x="966.5" y="264.0" font-size="14.4" textLength="100.1" lengthAdjust="spacing">station_london</text>
</g>
<text transform="translate(208.1,339.0) rotate(-30)" x="0" y="0" font-size="14.0" text-anchor="end" letter-spacing="1.1">2019-05-08</text>
<text transform="translate(339.7,339.0) rotate(-30)" x="0" y="0" font-size="14.0" text-anchor="end" letter-spacing="1.1">2019-05-15</text>
<text transform="translate(471.2,339.0) rotate(-30)" x="0" y="0" font-size="14.0" text-anchor="end" letter-spacing="1.1">2019-05-22</text>
<text transform="translate(659.2,339.0) rotate(-30)" x="0" y="0" font-size="14.0" text-anchor="end" letter-spacing="1.1">2019-06-01</text>
<text transform="translate(790.7,339.0) rotate(-30)" x="0" y="0" font-size="14.0" text-anchor="end" letter-spacing="1.1">2019-06-08</text>
<text transform="translate(922.3,339.0) rotate(-30)" x="0" y="0" font-size="14.0" text-anchor="end" letter-spacing="1.1">2019-06-15</text>
<text transform="translate(1053.8,339.0) rotate(-30)" x="0" y="0" font-size="14.0" text-anchor="end" letter-spacing="1.1">2019-06-22</text>
<text x="615" y="398.2" font-size="14.4" text-anchor="middle" textLength="60.7" lengthAdjust="spacing">datetime</text>
</svg></body></html>
